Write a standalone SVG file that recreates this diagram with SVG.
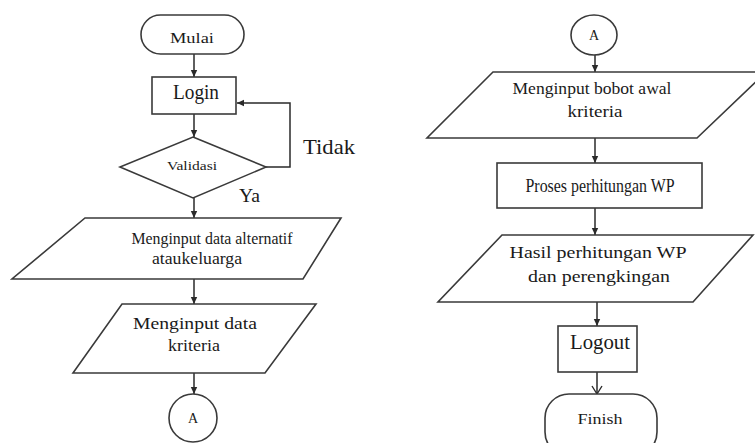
<svg xmlns="http://www.w3.org/2000/svg" width="755" height="443" viewBox="0 0 755 443">
<defs>
<marker id="ah" markerWidth="8" markerHeight="8" refX="7" refY="4" orient="auto" markerUnits="userSpaceOnUse">
<path d="M0,0.8 L7,4 L0,7.2 Z" fill="#2a2a2a"/>
</marker>
<marker id="av" markerWidth="12" markerHeight="12" refX="9" refY="6" orient="auto" markerUnits="userSpaceOnUse">
<path d="M1,1 L9,6 L1,11" fill="none" stroke="#2a2a2a" stroke-width="1.4"/>
</marker>
<style>
.s{fill:#fff;stroke:#3a3a3a;stroke-width:1.6}
.c{fill:none;stroke:#2a2a2a;stroke-width:1.5}
.t{font-family:"Liberation Serif","Times New Roman",serif;fill:#1a1a1a;text-anchor:middle}
.l{font-family:"Liberation Serif","Times New Roman",serif;fill:#1a1a1a}
</style>
</defs>
<rect width="755" height="443" fill="#fff"/>
<g id="connectors">
<line class="c" x1="194" y1="54" x2="194" y2="77" marker-end="url(#ah)"/>
<line class="c" x1="194" y1="114" x2="194" y2="137" marker-end="url(#ah)"/>
<line class="c" x1="194" y1="198" x2="194" y2="218" marker-end="url(#ah)"/>
<polyline class="c" points="266,167 290,167 290,103 237,103" marker-end="url(#ah)"/>
<line class="c" x1="194" y1="279" x2="194" y2="304" marker-end="url(#ah)"/>
<line class="c" x1="194" y1="373" x2="194" y2="394" marker-end="url(#ah)"/>
<line class="c" x1="595" y1="55" x2="595" y2="72" marker-end="url(#ah)"/>
<line class="c" x1="595" y1="138" x2="595" y2="163" marker-end="url(#ah)"/>
<line class="c" x1="595" y1="208" x2="595" y2="235" marker-end="url(#ah)"/>
<line class="c" x1="597" y1="302" x2="597" y2="326" marker-end="url(#ah)"/>
<line class="c" x1="597" y1="372" x2="597" y2="394" marker-end="url(#av)"/>
<text class="l" x="303" y="154" font-size="21" textLength="52" lengthAdjust="spacingAndGlyphs">Tidak</text>
<text class="l" x="239" y="202" font-size="18" textLength="21" lengthAdjust="spacingAndGlyphs">Ya</text>
</g>
<g id="mulai">
<rect class="s" x="141" y="15" width="103" height="39" rx="19.5"/>
<text class="t" x="192" y="43" font-size="15" textLength="44" lengthAdjust="spacingAndGlyphs">Mulai</text>
</g>
<g id="login">
<rect class="s" x="152" y="77" width="84" height="37"/>
<text class="t" x="196" y="99" font-size="21" textLength="46" lengthAdjust="spacingAndGlyphs">Login</text>
</g>
<g id="validasi">
<polygon class="s" points="193,137 266,167 193,198 120,167"/>
<text class="t" x="192" y="170" font-size="12" textLength="50" lengthAdjust="spacingAndGlyphs">Validasi</text>
</g>
<g id="input-alternatif">
<polygon class="s" points="85,218 341,218 303,279 12,279"/>
<text class="t" x="212" y="244" font-size="17" textLength="161" lengthAdjust="spacingAndGlyphs">Menginput data alternatif</text>
<text class="t" x="197" y="264" font-size="17" textLength="90" lengthAdjust="spacingAndGlyphs">ataukeluarga</text>
</g>
<g id="input-kriteria">
<polygon class="s" points="122,304 316,304 265,373 73,373"/>
<text class="t" x="195" y="329" font-size="17" textLength="124" lengthAdjust="spacingAndGlyphs">Menginput data</text>
<text class="t" x="194" y="351" font-size="17" textLength="52" lengthAdjust="spacingAndGlyphs">kriteria</text>
</g>
<g id="konektor-a1">
<circle class="s" cx="193" cy="418" r="24"/>
<text class="t" x="193" y="423" font-size="14">A</text>
</g>
<g id="konektor-a2">
<ellipse class="s" cx="594" cy="35" rx="23" ry="20"/>
<text class="t" x="594" y="40" font-size="14">A</text>
</g>
<g id="input-bobot">
<polygon class="s" points="493,72 766,72 697,138 427,138"/>
<text class="t" x="592" y="94" font-size="17" textLength="159" lengthAdjust="spacingAndGlyphs">Menginput bobot awal</text>
<text class="t" x="595" y="117" font-size="17" textLength="55" lengthAdjust="spacingAndGlyphs">kriteria</text>
</g>
<g id="proses-wp">
<rect class="s" x="497" y="163" width="205" height="45"/>
<text class="t" x="600" y="192" font-size="18" textLength="149" lengthAdjust="spacingAndGlyphs">Proses perhitungan WP</text>
</g>
<g id="hasil-wp">
<polygon class="s" points="502,235 753,235 693,302 438,302"/>
<text class="t" x="598" y="258" font-size="17" textLength="177" lengthAdjust="spacingAndGlyphs">Hasil perhitungan WP</text>
<text class="t" x="599" y="282" font-size="17" textLength="142" lengthAdjust="spacingAndGlyphs">dan perengkingan</text>
</g>
<g id="logout">
<rect class="s" x="558" y="326" width="79" height="46"/>
<text class="t" x="600" y="349" font-size="20" textLength="60" lengthAdjust="spacingAndGlyphs">Logout</text>
</g>
<g id="finish">
<rect class="s" x="545" y="394" width="112" height="62" rx="24"/>
<text class="t" x="600" y="424" font-size="14" textLength="45" lengthAdjust="spacingAndGlyphs">Finish</text>
</g>
</svg>
